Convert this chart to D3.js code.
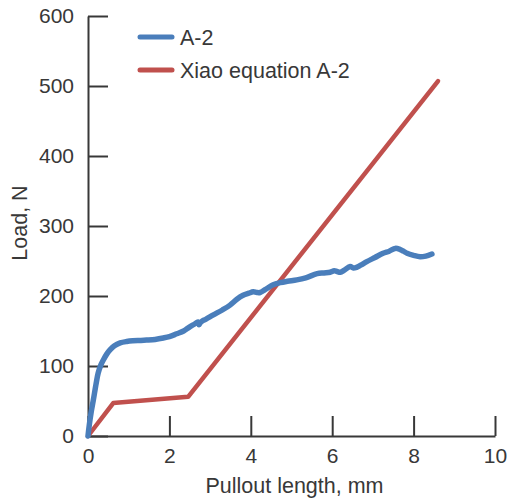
<!DOCTYPE html>
<html>
<head>
<meta charset="utf-8">
<script src="https://cdn.jsdelivr.net/npm/d3@7"></script>
<style>
  html, body { margin: 0; padding: 0; background: #ffffff; }
  svg { display: block; font-family: Arial, "Liberation Sans", sans-serif; }
</style>
</head>
<body>
<svg id="chart" width="509" height="499"></svg>
<script>
// ---- data ----
const xTicks = [0, 2, 4, 6, 8, 10];
const yTicks = [0, 100, 200, 300, 400, 500, 600];
const seriesNames = ["A-2", "Xiao equation A-2"];

const testX = [0, 0.03, 0.08, 0.13, 0.2, 0.25, 0.32, 0.38, 0.46, 0.54, 0.65, 0.79, 0.95, 1.1, 1.3, 1.44, 1.65, 1.85, 2.0, 2.18, 2.35, 2.5, 2.62, 2.7, 2.73, 2.76, 2.8, 2.9, 3.08, 3.3, 3.49, 3.65, 3.81, 3.95, 4.06, 4.15, 4.23, 4.35, 4.55, 4.72, 4.9, 5.13, 5.35, 5.63, 5.8, 5.95, 6.05, 6.12, 6.2, 6.3, 6.44, 6.52, 6.6, 6.7, 6.85, 7.05, 7.25, 7.4, 7.55, 7.65, 7.75, 7.84, 8.0, 8.16, 8.3, 8.45];
const testY = [0, 15, 35, 51, 75, 90, 102, 109, 117, 123, 129, 133, 135, 136, 136.5, 137, 138, 140, 142, 146, 150, 156, 160, 163, 159, 162, 164, 167, 173, 180, 187, 195, 201, 204, 206, 205, 205, 209, 216, 219, 221, 223, 226, 232, 233, 234, 236, 235, 234, 237, 242, 240, 241, 244, 249, 255, 261, 264, 268, 267, 264, 261, 258, 256, 257, 260];

const xiaoX = [0, 0.62, 2.46, 8.6];
const xiaoY = [0, 47, 56, 507];

// ---- chart ----
const svg = d3.select("#chart");
const x = d3.scaleLinear().domain([0, 10]).range([88, 495]);
const y = d3.scaleLinear().domain([0, 600]).range([436, 16]);
const ink = "#383838";
const fontSize = 21;
const titleSize = 21.5;

const xAxis = d3.axisBottom(x).tickValues(xTicks).tickSizeInner(-20).tickSizeOuter(0).tickPadding(12);
const yAxis = d3.axisLeft(y).tickValues(yTicks).tickSizeInner(-20).tickSizeOuter(0).tickPadding(14);

const gx = svg.append("g").attr("transform", `translate(0,${y(0)})`).call(xAxis);
const gy = svg.append("g").attr("transform", `translate(${x(0)},0)`).call(yAxis);
[gx, gy].forEach(g => {
  g.selectAll("path.domain").attr("stroke", ink).attr("stroke-width", 2);
  g.selectAll(".tick line").attr("stroke", ink).attr("stroke-width", 2);
  g.selectAll(".tick text").attr("fill", ink).style("font-size", fontSize + "px")
    .style("font-family", "Arial, 'Liberation Sans', sans-serif");
});

// axis titles
svg.append("text")
  .attr("x", (x(0) + x(10)) / 2 + 3).attr("y", 493)
  .attr("text-anchor", "middle").attr("fill", ink).style("font-size", titleSize + "px")
  .text("Pullout length, mm");
svg.append("text")
  .attr("transform", `translate(27,${(y(0) + y(600)) / 2 - 3}) rotate(-90)`)
  .attr("text-anchor", "middle").attr("fill", ink).style("font-size", titleSize + "px")
  .text("Load, N");

const line = d3.line().x(d => x(d[0])).y(d => y(d[1]));
const testData = testX.map((v, i) => [v, testY[i]]);
const xiaoData = xiaoX.map((v, i) => [v, xiaoY[i]]);
const colors = ["#4a7ebb", "#c0504d"];

svg.append("path").datum(xiaoData).attr("d", line)
  .attr("fill", "none").attr("stroke", colors[1]).attr("stroke-width", 4.5)
  .attr("stroke-linecap", "round").attr("stroke-linejoin", "round");
svg.append("path").datum(testData).attr("d", line.curve(d3.curveCatmullRom))
  .attr("fill", "none").attr("stroke", colors[0]).attr("stroke-width", 5.5)
  .attr("stroke-linecap", "round").attr("stroke-linejoin", "round");

// legend
const legY = [37, 70];
seriesNames.forEach((name, i) => {
  svg.append("line").attr("x1", 140).attr("x2", 172).attr("y1", legY[i]).attr("y2", legY[i])
    .attr("stroke", colors[i]).attr("stroke-width", 5).attr("stroke-linecap", "round");
  svg.append("text").attr("x", 180).attr("y", legY[i] + 7.5)
    .attr("fill", ink).style("font-size", titleSize + "px").text(name);
});
</script>
</body>
</html>
